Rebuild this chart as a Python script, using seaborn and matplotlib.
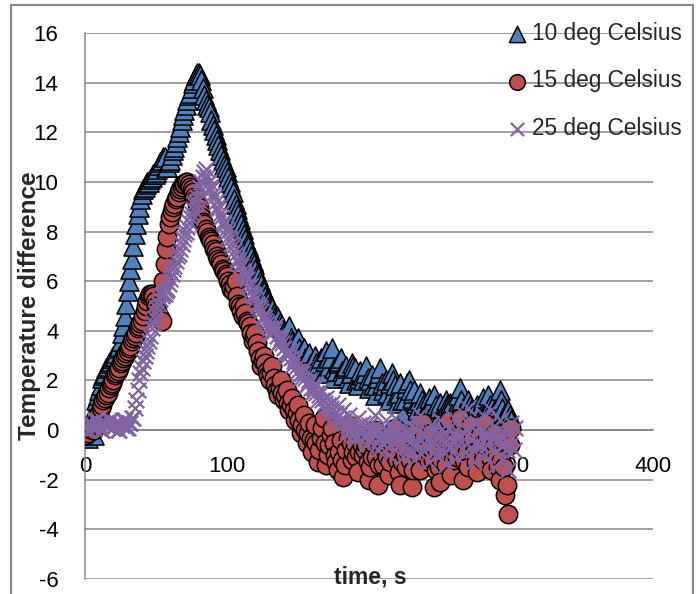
import numpy as np
import pandas as pd
import matplotlib
matplotlib.use("Agg")
import matplotlib.pyplot as plt
from matplotlib.patches import Rectangle
import seaborn as sns

# ---- data: temperature difference sampled every second ----
t_blue = list(range(0, 301))
v_blue = [0.0, 0.1, -0.3, 0.0, 0.2, 0.4, -0.2, 0.9, 1.2, 1.4,
          1.6, 1.8, 2.1, 2.2, 2.3, 2.5, 2.6, 2.7, 2.8, 2.9,
          3.0, 3.0, 3.1, 3.3, 3.4, 3.6, 3.9, 4.2, 4.6, 5.1,
          5.6, 6.0, 6.5, 6.9, 7.4, 7.9, 8.3, 8.7, 9.0, 9.3,
          9.5, 9.7, 9.8, 9.9, 10.0, 10.0, 10.1, 10.2, 10.3, 10.3,
          10.4, 10.5, 10.7, 10.8, 10.9, 11.0, 11.0, 10.6, 10.6, 10.8,
          10.9, 11.1, 11.3, 11.4, 11.6, 11.8, 12.0, 12.2, 12.5, 12.7,
          12.9, 13.1, 13.3, 13.5, 13.6, 13.8, 14.0, 14.1, 14.3, 14.4,
          14.4, 14.3, 14.1, 13.8, 13.5, 13.3, 13.1, 13.0, 12.8, 12.5,
          12.3, 12.1, 11.9, 11.7, 11.5, 11.3, 11.1, 10.9, 10.7, 10.6,
          10.4, 10.2, 10.0, 9.8, 9.6, 9.3, 9.1, 8.9, 8.7, 8.5,
          8.3, 8.1, 7.9, 7.7, 7.5, 7.4, 7.2, 7.0, 6.8, 6.7,
          6.5, 6.3, 6.2, 6.0, 5.9, 5.7, 5.6, 5.4, 5.3, 5.2,
          5.1, 5.0, 4.9, 4.7, 4.6, 4.6, 4.5, 4.3, 4.2, 4.1,
          4.0, 3.9, 3.8, 4.0, 4.2, 3.7, 3.6, 3.5, 3.4, 3.6,
          3.7, 3.3, 3.1, 3.2, 3.3, 2.9, 2.8, 3.0, 3.1, 2.7,
          2.6, 2.8, 3.0, 2.7, 2.5, 2.7, 2.9, 2.4, 2.3, 2.8,
          3.2, 2.9, 2.6, 2.9, 3.3, 2.5, 2.1, 2.4, 2.7, 2.8,
          2.9, 2.4, 2.2, 2.5, 2.6, 2.1, 1.9, 2.3, 2.7, 2.6,
          2.5, 2.0, 1.8, 2.1, 2.4, 2.2, 2.0, 2.3, 2.6, 2.1,
          1.7, 2.0, 2.2, 1.8, 1.4, 1.8, 2.1, 2.3, 2.5, 1.9,
          1.6, 1.8, 2.0, 1.5, 1.2, 1.9, 2.3, 2.0, 1.8, 1.4,
          1.1, 1.5, 1.9, 1.2, 0.6, 1.2, 1.7, 1.9, 2.0, 1.6,
          1.3, 1.5, 1.6, 1.1, 0.8, 1.2, 1.5, 1.2, 1.0, 0.7,
          0.5, 0.9, 1.3, 1.1, 0.9, 1.2, 1.4, 1.0, 0.7, 0.9,
          1.1, 0.7, 0.4, 0.9, 1.2, 1.0, 0.8, 1.1, 1.0, 0.6,
          0.3, 0.7, 1.1, 1.4, 1.7, 1.2, 0.9, 0.7, 0.5, 0.9,
          1.2, 1.0, 0.8, 0.5, 0.2, 0.6, 1.0, 0.8, 0.6, 1.0,
          1.3, 0.8, 0.4, 0.9, 1.4, 1.0, 0.7, 0.9, 1.1, 0.8,
          0.5, 1.1, 1.6, 1.2, 0.9, 0.6, 0.3, 0.6, 0.8, 0.6,
          0.4]

t_red = list(range(0, 301))
v_red = [0.0, -0.2, -0.1, 0.1, 0.1, 0.0, 0.0, 0.2, 0.3, 0.5,
         0.7, 0.9, 1.0, 1.2, 1.3, 1.4, 1.5, 1.7, 1.8, 1.9,
         2.0, 2.2, 2.3, 2.4, 2.5, 2.7, 2.8, 2.9, 3.0, 3.1,
         3.2, 3.3, 3.4, 3.6, 3.7, 3.8, 3.9, 4.1, 4.2, 4.3,
         4.4, 4.6, 4.8, 5.0, 5.2, 5.4, 5.5, 5.5, 5.4, 5.2,
         5.0, 4.8, 4.6, 4.5, 4.4, 6.0, 6.7, 7.3, 7.8, 8.3,
         8.6, 8.8, 9.0, 9.1, 9.3, 9.4, 9.6, 9.7, 9.8, 9.9,
         9.9, 10.0, 10.0, 9.9, 9.8, 9.7, 9.6, 9.4, 9.3, 9.1,
         9.0, 8.8, 8.6, 8.4, 8.3, 8.1, 8.0, 7.8, 7.7, 7.6,
         7.5, 7.3, 7.2, 7.0, 6.9, 6.8, 6.7, 6.5, 6.4, 6.3,
         6.2, 6.0, 5.9, 5.7, 5.6, 5.8, 6.0, 5.4, 5.1, 5.0,
         4.8, 4.6, 5.0, 4.7, 4.4, 4.3, 4.2, 3.9, 3.6, 3.8,
         3.9, 3.5, 3.2, 2.9, 2.6, 2.8, 3.0, 2.7, 2.4, 2.2,
         2.0, 2.3, 2.6, 2.1, 1.8, 1.6, 1.4, 1.7, 2.0, 1.5,
         1.2, 1.4, 1.6, 1.1, 0.8, 1.0, 1.3, 0.8, 0.4, 0.7,
         1.0, 0.4, -0.1, 0.2, 0.6, 0.0, -0.5, -0.1, 0.3, -0.3,
         -0.9, -0.4, 0.2, -0.5, -1.3, -0.8, -0.3, 0.1, 0.5, -0.5,
         -1.4, -1.0, -0.6, -0.2, 0.1, -0.5, -1.0, -1.3, -1.6, -0.9,
         -0.4, -1.2, -1.9, -1.4, -0.8, -0.3, 0.2, -0.5, -1.2, -0.9,
         -0.5, -1.1, -1.7, -0.9, -0.2, -0.6, -1.0, -0.8, -0.6, -1.3,
         -2.0, -1.5, -1.1, -0.5, 0.0, -1.1, -2.2, -1.4, -0.7, -1.0,
         -1.4, -0.8, -0.3, -1.1, -1.8, -1.3, -0.9, -0.4, 0.1, -0.6,
         -1.2, -1.7, -2.2, -1.3, -0.5, -1.0, -1.5, -0.8, -0.2, -1.2,
         -2.3, -1.6, -1.0, -0.7, -0.4, -1.0, -1.6, -0.6, 0.3, -0.2,
         -0.8, -1.0, -1.3, -0.7, -0.1, -1.2, -2.3, -1.6, -0.9, -1.5,
         -2.1, -1.2, -0.3, -0.8, -1.4, -0.5, 0.4, -0.7, -1.8, -1.2,
         -0.6, -0.8, -1.1, -0.3, 0.5, -0.8, -2.0, -1.2, -0.4, -0.9,
         -1.5, -0.6, 0.2, -0.3, -0.9, -1.3, -1.7, -0.9, -0.2, -0.7,
         -1.2, -0.4, 0.3, -0.2, -0.7, -1.1, -1.6, -0.8, -0.1, -0.5,
         -1.0, -1.5, -2.0, -1.2, -0.4, -1.5, -2.6, -2.2, -3.4, -0.6,
         0.1]

t_purple = list(range(0, 304))
v_purple = [0.2, 0.1, 0.0, 0.3, 0.3, 0.1, 0.1, 0.4, 0.4, 0.2,
            0.2, 0.0, 0.0, 0.3, 0.3, 0.2, 0.2, 0.4, 0.4, 0.1,
            0.1, 0.3, 0.3, 0.0, 0.0, 0.2, 0.2, 0.4, 0.4, 0.1,
            0.1, 0.3, 0.3, 0.5, 0.5, 0.9, 1.2, 1.6, 2.0, 2.3,
            2.5, 2.8, 3.0, 3.2, 3.4, 3.6, 3.8, 4.1, 4.3, 4.5,
            4.7, 4.9, 5.1, 5.3, 5.4, 5.5, 5.5, 5.6, 5.7, 5.9,
            6.1, 6.3, 6.5, 6.6, 6.8, 7.0, 7.1, 7.3, 7.5, 7.7,
            7.9, 8.0, 8.2, 8.4, 8.6, 8.7, 8.9, 9.1, 9.2, 9.4,
            9.6, 9.8, 10.0, 10.2, 10.4, 10.5, 10.2, 10.0, 9.8, 9.7,
            9.5, 9.4, 9.2, 9.0, 8.9, 8.7, 8.6, 8.4, 8.3, 8.1,
            8.0, 7.8, 7.7, 7.5, 7.4, 7.2, 7.1, 6.9, 6.8, 6.7,
            6.6, 6.4, 6.3, 6.2, 6.1, 5.9, 5.8, 5.6, 5.5, 5.4,
            5.3, 5.1, 5.0, 4.9, 4.8, 4.6, 4.5, 4.4, 4.3, 4.2,
            4.1, 4.0, 3.9, 4.1, 4.2, 3.8, 3.5, 3.6, 3.7, 3.5,
            3.3, 3.1, 3.0, 3.1, 3.2, 2.9, 2.6, 2.8, 2.9, 2.6,
            2.4, 2.2, 2.1, 2.3, 2.5, 2.1, 1.8, 1.9, 2.0, 1.7,
            1.5, 1.7, 1.9, 1.5, 1.2, 1.4, 1.6, 1.2, 0.9, 1.1,
            1.3, 1.0, 0.7, 0.9, 1.1, 0.7, 0.4, 0.7, 1.0, 0.6,
            0.3, 0.5, 0.8, 0.3, -0.2, 0.2, 0.6, 0.3, 0.1, -0.2,
            -0.4, 0.1, 0.5, 0.2, -0.1, 0.1, 0.3, -0.2, -0.6, -0.2,
            0.2, 0.0, -0.3, 0.1, 0.6, -0.1, -0.8, -0.4, 0.0, -0.2,
            -0.5, 0.0, 0.4, -0.3, -1.0, -0.6, -0.2, 0.1, 0.5, -0.1,
            -0.7, -0.3, 0.1, -0.5, -1.1, -0.7, -0.3, 0.0, 0.3, -0.2,
            -0.6, -0.9, -1.2, -0.6, 0.0, 0.3, 0.6, -0.1, -0.8, -0.5,
            -0.2, -0.7, -1.3, -0.5, 0.2, -0.1, -0.5, -0.8, -1.0, -0.3,
            0.4, 0.0, -0.3, -0.9, -1.4, -0.6, 0.1, -0.3, -0.7, -0.1,
            0.5, -0.3, -1.1, -0.6, -0.2, 0.2, 0.7, -0.1, -0.9, 0.0,
            0.9, 0.2, -0.4, -0.8, -1.3, -0.5, 0.3, -0.1, -0.6, 0.0,
            0.6, -0.2, -1.0, -0.6, -0.2, 0.3, 0.8, -0.3, -1.5, -0.9,
            -0.4, 0.0, 0.4, -0.4, -1.2, -0.6, -0.1, -0.8, -1.6, -0.6,
            0.3, -0.3, -0.8, 0.1]

labels = ["10 deg Celsius", "15 deg Celsius", "25 deg Celsius"]
x_ticks = [0, 100, 200, 300, 400]
y_ticks = [-6, -4, -2, 0, 2, 4, 6, 8, 10, 12, 14, 16]

df_b = pd.DataFrame({"t": t_blue, "v": v_blue, "series": labels[0]})
df_r = pd.DataFrame({"t": t_red, "v": v_red, "series": labels[1]})
df_p = pd.DataFrame({"t": t_purple, "v": v_purple, "series": labels[2]})

sns.set_style("white")
plt.rcParams["font.family"] = ["Liberation Sans", "DejaVu Sans"]

fig = plt.figure(figsize=(7.0, 5.94), dpi=100)
ax = fig.add_axes([85 / 700, 1 - 579 / 594, (653 - 85) / 700, (579 - 33) / 594])

grid_c = "#868686"
blue, red, purple = "#4F81BD", "#C0504D", "#8064A2"

sns.scatterplot(data=df_b, x="t", y="v", marker="^", s=190, color=blue,
                edgecolor="black", linewidth=1.1, ax=ax, label=labels[0], zorder=3)
sns.scatterplot(data=df_r, x="t", y="v", marker="o", s=175, color=red,
                edgecolor="black", linewidth=1.1, ax=ax, label=labels[1], zorder=4)
sns.scatterplot(data=df_p, x="t", y="v", marker="x", s=125, color=purple,
                linewidth=1.6, ax=ax, label=labels[2], zorder=5)

ax.set_xlim(0, 400)
ax.set_ylim(-6, 16)
ax.set_xticks(x_ticks)
ax.set_yticks(y_ticks)
ax.set_xticklabels([str(v) for v in x_ticks])
ax.set_yticklabels([str(v) for v in y_ticks])
ax.set_xlabel("")
ax.set_ylabel("")

ax.yaxis.grid(True, color=grid_c, linewidth=1.1, zorder=0)
ax.xaxis.grid(False)
ax.set_axisbelow(True)
for side in ["top", "right"]:
    ax.spines[side].set_visible(False)
ax.spines["left"].set_color(grid_c)
ax.spines["left"].set_linewidth(1.1)
ax.spines["bottom"].set_position(("data", 0))
ax.spines["bottom"].set_color(grid_c)
ax.spines["bottom"].set_linewidth(1.1)

ax.tick_params(axis="both", length=0, labelsize=16, colors="black")
ax.tick_params(axis="x", pad=18.5)
ax.tick_params(axis="y", pad=19)

leg = ax.legend(loc="upper left", bbox_to_anchor=(510 / 700, 1 - 22 / 594),
                bbox_transform=fig.transFigure, frameon=False, fontsize=16.3,
                handlelength=0.6, handletextpad=0.35, labelspacing=1.08,
                borderpad=0, borderaxespad=0, markerscale=0.85)

fig.text(30 / 700, 1 - 306 / 594, "Temperature difference", rotation=90,
         ha="center", va="center", fontsize=17.5, fontweight="bold")
fig.text(370 / 700, 1 - 577 / 594, "time, s", ha="center", va="center",
         fontsize=16.5, fontweight="bold")

fig.patches.append(Rectangle((11 / 700, -0.05), (693 - 11) / 700, 0.05 + 1 - 5 / 594,
                             transform=fig.transFigure, fill=False,
                             edgecolor=grid_c, linewidth=1.5, zorder=0))

fig.savefig("out.png", dpi=100)
